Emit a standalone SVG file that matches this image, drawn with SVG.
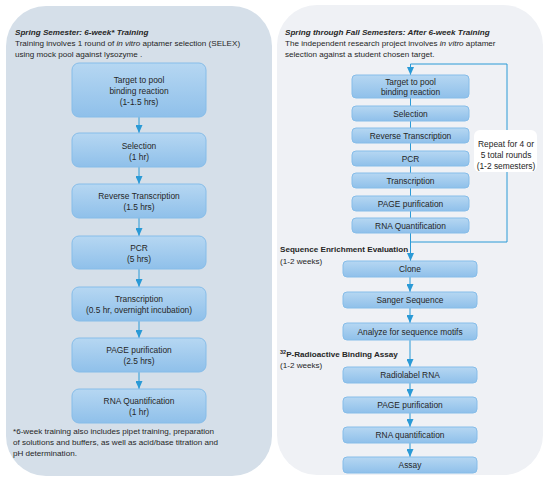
<svg xmlns="http://www.w3.org/2000/svg" width="550" height="483" viewBox="0 0 550 483">
<defs>
<linearGradient id="bx" x1="0" y1="0" x2="0" y2="1">
<stop offset="0" stop-color="#b6d7f2"/>
<stop offset="1" stop-color="#8fc0ea"/>
</linearGradient>
<marker id="ah" viewBox="0 0 8 7" refX="8" refY="3.5" markerWidth="8" markerHeight="7" markerUnits="userSpaceOnUse" orient="auto">
<path d="M0,0 L8,3.5 L0,7 Z" fill="#2a9ad6"/>
</marker>
</defs>
<style>
text{font-family:"Liberation Sans",Arial,sans-serif;fill:#262626}
.p{font-size:8.1px}
.b{font-size:8.4px;text-anchor:middle}
.box{fill:url(#bx);stroke:#86bde9;stroke-width:1}
.c{fill:none;stroke:#2a9ad6;stroke-width:1}
.h{font-weight:bold}
</style>
<rect x="6" y="6" width="266" height="470" rx="40" fill="#d5dfe9"/>
<rect x="277" y="5" width="266" height="470" rx="40" fill="#eff1f5"/>

<g id="left-text">
<text class="p" x="15" y="35" font-weight="bold" font-style="italic">Spring Semester: 6-week* Training</text>
<text class="p" x="15" y="46">Training involves 1 round of <tspan font-style="italic">in vitro</tspan> aptamer selection (SELEX)</text>
<text class="p" x="15" y="57">using mock pool against lysozyme .</text>
<text class="p" x="13" y="434">*6-week training also includes pipet training, preparation</text>
<text class="p" x="13" y="445">of solutions and buffers, as well as acid/base titration and</text>
<text class="p" x="13" y="456">pH determination.</text>
</g>

<g id="right-text">
<text class="p" x="285" y="35" font-weight="bold" font-style="italic">Spring through Fall Semesters: After 6-week Training</text>
<text class="p" x="285" y="46">The independent research project involves <tspan font-style="italic">in vitro</tspan> aptamer</text>
<text class="p" x="285" y="57">selection against a student chosen target.</text>
<text class="p h" x="280" y="252">Sequence Enrichment Evaluation</text>
<text class="p" x="280" y="264">(1-2 weeks)</text>
<text class="p h" x="280" y="357"><tspan font-size="5.5" baseline-shift="super">32</tspan>P-Radioactive Binding Assay</text>
<text class="p" x="280" y="368">(1-2 weeks)</text>
</g>

<g id="connectors">
<line class="c" x1="139" y1="117" x2="139" y2="133" marker-end="url(#ah)"/>
<line class="c" x1="139" y1="167" x2="139" y2="184" marker-end="url(#ah)"/>
<line class="c" x1="139" y1="218" x2="139" y2="236" marker-end="url(#ah)"/>
<line class="c" x1="139" y1="269" x2="139" y2="287" marker-end="url(#ah)"/>
<line class="c" x1="139" y1="321" x2="139" y2="338" marker-end="url(#ah)"/>
<line class="c" x1="139" y1="372" x2="139" y2="389" marker-end="url(#ah)"/>
<line class="c" x1="410.5" y1="98" x2="410.5" y2="218"/>
<path class="c" d="M410.5,242 H507 V64 H410.5 V75" marker-end="url(#ah)"/>
<line class="c" x1="410.5" y1="233" x2="410.5" y2="261" marker-end="url(#ah)"/>
<line class="c" x1="410" y1="277" x2="410" y2="292" marker-end="url(#ah)"/>
<line class="c" x1="410" y1="308" x2="410" y2="323" marker-end="url(#ah)"/>
<line class="c" x1="410" y1="340" x2="410" y2="367" marker-end="url(#ah)"/>
<line class="c" x1="410" y1="383" x2="410" y2="397" marker-end="url(#ah)"/>
<line class="c" x1="410" y1="413" x2="410" y2="427" marker-end="url(#ah)"/>
<line class="c" x1="410" y1="443" x2="410" y2="457" marker-end="url(#ah)"/>
</g>

<g id="repeat-label">
<rect x="474" y="130" width="63" height="42" rx="6" fill="#ffffff"/>
<text class="b" x="506" y="147">Repeat for 4 or</text>
<text class="b" x="506" y="158">5 total rounds</text>
<text class="b" x="506" y="169">(1-2 semesters)</text>
</g>

<g id="l1"><rect class="box" x="72" y="63" width="134" height="54" rx="7"/>
<text class="b" x="139" y="83">Target to pool</text><text class="b" x="139" y="94">binding reaction</text><text class="b" x="139" y="105">(1-1.5 hrs)</text></g>
<g id="l2"><rect class="box" x="72" y="133" width="134" height="34" rx="7"/>
<text class="b" x="139" y="149">Selection</text><text class="b" x="139" y="160">(1 hr)</text></g>
<g id="l3"><rect class="box" x="72" y="184" width="134" height="34" rx="7"/>
<text class="b" x="139" y="199">Reverse Transcription</text><text class="b" x="139" y="210">(1.5 hrs)</text></g>
<g id="l4"><rect class="box" x="72" y="236" width="134" height="33" rx="7"/>
<text class="b" x="139" y="251">PCR</text><text class="b" x="139" y="262">(5 hrs)</text></g>
<g id="l5"><rect class="box" x="72" y="287" width="134" height="34" rx="7"/>
<text class="b" x="139" y="302">Transcription</text><text class="b" x="139" y="313">(0.5 hr, overnight incubation)</text></g>
<g id="l6"><rect class="box" x="72" y="338" width="134" height="34" rx="7"/>
<text class="b" x="139" y="353">PAGE purification</text><text class="b" x="139" y="364">(2.5 hrs)</text></g>
<g id="l7"><rect class="box" x="72" y="389" width="134" height="34" rx="7"/>
<text class="b" x="139" y="404">RNA Quantification</text><text class="b" x="139" y="415">(1 hr)</text></g>

<g id="r1"><rect class="box" x="352" y="75" width="117" height="23" rx="4"/>
<text class="b" x="410.5" y="85">Target to pool</text><text class="b" x="410.5" y="95">binding reaction</text></g>
<g id="r2"><rect class="box" x="352" y="106" width="117" height="15" rx="4"/>
<text class="b" x="410.5" y="116.5">Selection</text></g>
<g id="r3"><rect class="box" x="352" y="128" width="117" height="15" rx="4"/>
<text class="b" x="410.5" y="138.5">Reverse Transcription</text></g>
<g id="r4"><rect class="box" x="352" y="151" width="117" height="15" rx="4"/>
<text class="b" x="410.5" y="161.5">PCR</text></g>
<g id="r5"><rect class="box" x="352" y="173" width="117" height="15" rx="4"/>
<text class="b" x="410.5" y="183.5">Transcription</text></g>
<g id="r6"><rect class="box" x="352" y="196" width="117" height="15" rx="4"/>
<text class="b" x="410.5" y="206.5">PAGE purification</text></g>
<g id="r7"><rect class="box" x="352" y="218" width="117" height="15" rx="4"/>
<text class="b" x="410.5" y="228.5">RNA Quantification</text></g>

<g id="r8"><rect class="box" x="343" y="261" width="134" height="16" rx="4"/>
<text class="b" x="410" y="272">Clone</text></g>
<g id="r9"><rect class="box" x="343" y="292" width="134" height="16" rx="4"/>
<text class="b" x="410" y="303">Sanger Sequence</text></g>
<g id="r10"><rect class="box" x="343" y="323" width="134" height="17" rx="4"/>
<text class="b" x="410" y="334.5">Analyze for sequence motifs</text></g>
<g id="r11"><rect class="box" x="343" y="367" width="134" height="16" rx="4"/>
<text class="b" x="410" y="378">Radiolabel RNA</text></g>
<g id="r12"><rect class="box" x="343" y="397" width="134" height="16" rx="4"/>
<text class="b" x="410" y="408">PAGE purification</text></g>
<g id="r13"><rect class="box" x="343" y="427" width="134" height="16" rx="4"/>
<text class="b" x="410" y="438">RNA quantification</text></g>
<g id="r14"><rect class="box" x="343" y="457" width="134" height="16" rx="4"/>
<text class="b" x="410" y="468">Assay</text></g>
</svg>
